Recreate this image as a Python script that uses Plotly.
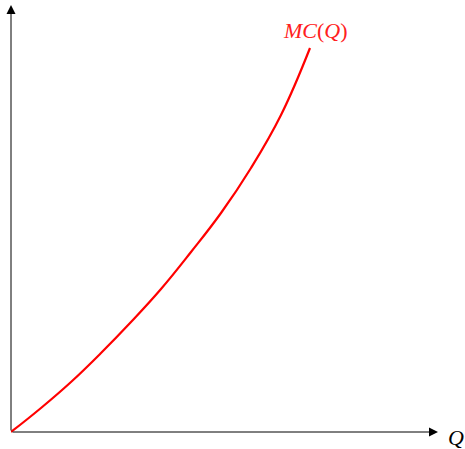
import plotly.graph_objects as go

# Marginal cost curve points (data units, origin at axes corner)
q_vals = [0, 30, 60, 90, 120, 150, 180, 210, 240, 270, 299]
mc_vals = [0, 24, 50, 79, 110, 143, 180, 219, 264, 317, 384]

curve_label = "<i>MC</i>(<i>Q</i>)"
x_label = "<i>Q</i>"

fig = go.Figure()
fig.add_trace(go.Scatter(x=q_vals, y=mc_vals, mode="lines",
                         line=dict(color="#ff0000", width=2.2, shape="spline", smoothing=1.2),
                         hoverinfo="skip", showlegend=False))

# axes with arrows
fig.add_annotation(x=427, y=0, ax=0, ay=0, xref="x", yref="y", axref="x", ayref="y",
                   showarrow=True, arrowhead=2, arrowsize=1.8, arrowwidth=1.0,
                   arrowcolor="black", text="")
fig.add_annotation(x=0, y=427, ax=0, ay=0, xref="x", yref="y", axref="x", ayref="y",
                   showarrow=True, arrowhead=2, arrowsize=1.8, arrowwidth=1.0,
                   arrowcolor="black", text="")

fig.add_annotation(x=445, y=-5, xref="x", yref="y", text=x_label, showarrow=False,
                   font=dict(family="Liberation Serif", size=22, color="black"))
fig.add_annotation(x=304, y=402, xref="x", yref="y", text=curve_label, showarrow=False,
                   font=dict(family="Liberation Serif", size=22, color="#ff2020"))

fig.update_layout(
    width=465, height=449,
    margin=dict(l=11, r=0, t=0, b=0),
    paper_bgcolor="white", plot_bgcolor="white",
    xaxis=dict(range=[0, 454], visible=False, fixedrange=True),
    yaxis=dict(range=[-17, 432], visible=False, fixedrange=True),
)
fig.write_html("out.html", config={"displayModeBar": False},
               post_script="document.body.style.margin='0';")
